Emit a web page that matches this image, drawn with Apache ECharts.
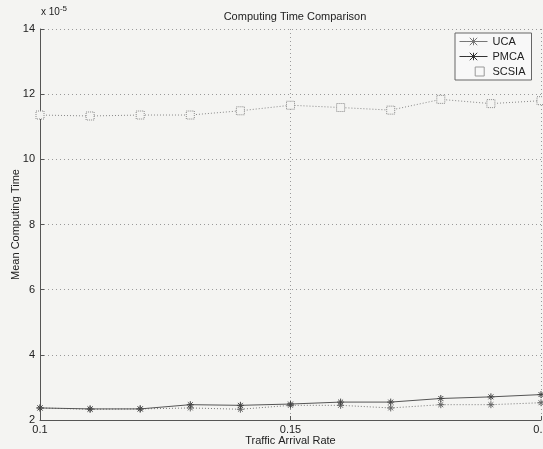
<!DOCTYPE html>
<html><head><meta charset="utf-8">
<script src="https://cdn.jsdelivr.net/npm/echarts@6/dist/echarts.min.js"></script>
<style>html,body{margin:0;padding:0;background:#f4f4f2;}#c{width:543px;height:449px;}</style>
</head><body><div id="c"></div>
<script>
// Values in units of 1e-5
const rates = [0.10,0.11,0.12,0.13,0.14,0.15,0.16,0.17,0.18,0.19,0.20];
const uca   = [2.37,2.33,2.34,2.37,2.33,2.45,2.45,2.37,2.47,2.47,2.53];
const pmca  = [2.37,2.34,2.34,2.47,2.45,2.49,2.55,2.55,2.66,2.71,2.78];
const scsia = [11.36,11.33,11.36,11.36,11.49,11.66,11.59,11.51,11.84,11.71,11.80];
const xTicks = [0.1,0.15,0.2];

const font = 'Liberation Sans, Arial, sans-serif';
const star = 'path://M0,5L10,5M5,0L5,10M1.5,1.5L8.5,8.5M8.5,1.5L1.5,8.5';
const starLeg = 'path://M0,5L8,5M8,5L22,5M14,5L30,5M15,1L15,9M11,1L19,9M19,1L11,9';
const pair = a => rates.map((r,i)=>[r,a[i]]);
const chart = echarts.init(document.getElementById('c'));
chart.setOption({
  backgroundColor:'#f4f4f2',
  animation:false,
  textStyle:{fontFamily:font},
  title:{text:'Computing Time Comparison',left:290,textAlign:'center',top:6,
    textStyle:{fontSize:11,fontWeight:'normal',color:'#222',fontFamily:font}},
  grid:{left:40,right:2,top:29,bottom:29,containLabel:false,outerBoundsMode:'none'},
  legend:{orient:'vertical',left:455,top:33,itemWidth:28,itemHeight:9,itemGap:4,
    padding:[3,6,3,4],backgroundColor:'#f8f8f8',borderColor:'#666',borderWidth:1,borderRadius:0,
    textStyle:{fontSize:11,color:'#222',fontFamily:font},
    data:[
      {name:'UCA',icon:starLeg,itemStyle:{color:'transparent',borderColor:'#777',borderWidth:1}},
      {name:'PMCA',icon:starLeg,itemStyle:{color:'transparent',borderColor:'#333',borderWidth:1}},
      {name:'SCSIA',icon:'path://M11,1L19,1L19,9L11,9Z M0,5L0,5',itemStyle:{color:'transparent',borderColor:'#999',borderWidth:1}}]},
  xAxis:{type:'value',min:0.1,max:0.2,interval:0.05,
    name:'Traffic Arrival Rate',nameLocation:'middle',nameGap:15,nameMoveOverlap:false,
    nameTextStyle:{fontSize:11,color:'#222'},
    axisLine:{lineStyle:{color:'#555'}},axisTick:{inside:true,length:4,lineStyle:{color:'#555'}},
    axisLabel:{fontSize:11,color:'#222',margin:4,formatter:v=>{const t=xTicks.find(x=>Math.abs(x-v)<1e-9);return t===undefined?'':String(t);}},
    splitLine:{show:true,lineStyle:{type:[1,3],color:'#999'}}},
  yAxis:{type:'value',min:2,max:14,interval:2,
    name:'Mean Computing Time',nameLocation:'middle',nameGap:19,nameMoveOverlap:false,
    nameTextStyle:{fontSize:11,color:'#222'},
    axisLine:{show:true,lineStyle:{color:'#555'}},axisTick:{show:true,inside:true,length:4,lineStyle:{color:'#555'}},
    axisLabel:{fontSize:11,color:'#222',margin:5},
    splitLine:{show:true,lineStyle:{type:[1,3],color:'#999'}}},
  graphic:[{type:'text',left:41,top:5,style:{text:'x 10{s|-5}',rich:{s:{fontSize:8,verticalAlign:'top',padding:[0,0,6,0],fill:'#222'}},fontSize:10,fill:'#222',fontFamily:font}}],
  series:[
    {name:'UCA',type:'line',data:pair(uca),symbol:star,symbolSize:7,
      lineStyle:{color:'#777',width:1,type:[1,2]},itemStyle:{color:'none',borderColor:'#666',borderWidth:1}},
    {name:'PMCA',type:'line',data:pair(pmca),symbol:star,symbolSize:7,
      lineStyle:{color:'#555',width:1},itemStyle:{color:'none',borderColor:'#444',borderWidth:1}},
    {name:'SCSIA',type:'line',data:pair(scsia),symbol:'rect',symbolSize:8,
      lineStyle:{color:'#888',width:1,type:[1,2]},itemStyle:{color:'#f4f4f2',borderColor:'#888',borderWidth:1,borderType:'dotted'}}
  ]
});
</script></body></html>
